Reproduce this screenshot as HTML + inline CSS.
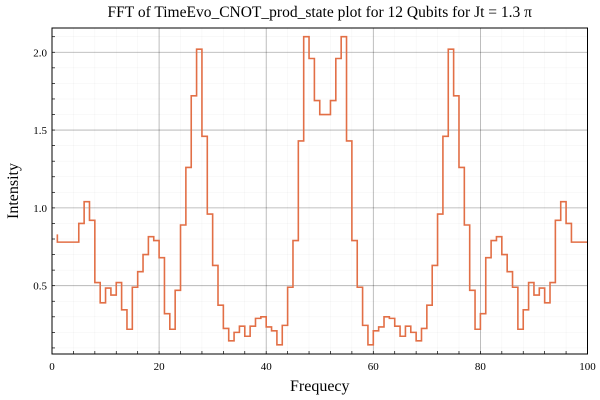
<!DOCTYPE html>
<html><head><meta charset="utf-8"><style>
body{margin:0;background:#fff;}
svg{display:block;font-family:"Liberation Serif",serif;}
</style></head><body>
<svg id="chart" width="600" height="400" xmlns="http://www.w3.org/2000/svg"></svg>
<script>
const xValues = [];
for (let i = 1; i <= 100; i++) xValues.push(i);
const intensity = [0.83,0.78,0.78,0.78,0.78,0.90,1.04,0.92,0.52,0.39,0.485,0.44,0.52,0.345,0.22,0.49,0.59,0.70,0.815,0.79,0.68,0.32,0.22,0.47,0.89,1.26,1.72,2.02,1.46,0.96,0.63,0.375,0.225,0.146,0.2,0.24,0.175,0.24,0.29,0.30,0.235,0.21,0.12,0.245,0.49,0.79,1.43,2.10,1.96,1.69,1.60,1.60,1.69,1.96,2.10,1.43,0.79,0.49,0.245,0.12,0.21,0.235,0.30,0.29,0.24,0.175,0.24,0.2,0.146,0.225,0.375,0.63,0.96,1.46,2.02,1.72,1.26,0.89,0.47,0.22,0.32,0.68,0.79,0.815,0.70,0.59,0.49,0.22,0.345,0.52,0.44,0.485,0.39,0.52,0.92,1.04,0.90,0.78,0.78,0.78];
const xTicks = [0,20,40,60,80,100];
const yTicks = [0.5,1.0,1.5,2.0];
const yTickLabels = ["0.5","1.0","1.5","2.0"];

const L=52,R=587.5,T=28,B=354;
const xMin=0,xMax=100,yMin=0.061,yMax=2.156;
const sx=v=>L+(v-xMin)/(xMax-xMin)*(R-L);
const sy=v=>B-(v-yMin)/(yMax-yMin)*(B-T);
const svg=document.getElementById('chart');
const NS='http://www.w3.org/2000/svg';
function mk(tag,attrs){const e=document.createElementNS(NS,tag);for(const k in attrs)e.setAttribute(k,attrs[k]);svg.appendChild(e);return e;}

// minor grid
for(let v=0;v<=100;v+=4){
  const e=mk('line',{x1:sx(v),x2:sx(v),y1:T,y2:B,stroke:'#000','stroke-opacity':0.05,'stroke-width':0.5});
  
  
}
for(let v=0.1;v<=2.15;v+=0.1){
  const e=mk('line',{x1:L,x2:R,y1:sy(v),y2:sy(v),stroke:'#000','stroke-opacity':0.05,'stroke-width':0.5});
  
  
}
// major grid + ticks
xTicks.forEach(v=>{
  const g=mk('line',{x1:sx(v),x2:sx(v),y1:T,y2:B,stroke:'#000','stroke-opacity':0.3,'stroke-width':0.8});
  
  
  const t=mk('text',{x:sx(v),y:B+16,'text-anchor':'middle','font-size':11,fill:'#000'});
  t.textContent=v;
  
  
});
for(let v=0;v<=100;v+=4){
  const e=mk('line',{x1:sx(v),x2:sx(v),y1:B,y2:B-3,stroke:'#000','stroke-width':0.7});
  
  
}
yTicks.forEach((v,i)=>{
  const g=mk('line',{x1:L,x2:R,y1:sy(v),y2:sy(v),stroke:'#000','stroke-opacity':0.3,'stroke-width':0.8});
  
  
  const t=mk('text',{x:L-5,y:sy(v)+4,'text-anchor':'end','font-size':11,fill:'#000'});
  t.textContent=yTickLabels[i];
  
  
});
for(let v=0.1;v<=2.15;v+=0.1){
  const e=mk('line',{x1:L,x2:L+3,y1:sy(v),y2:sy(v),stroke:'#000','stroke-width':0.7});
  
  
}
// series (steppre)
let d='M'+sx(xValues[0])+','+sy(intensity[0]);
for(let i=1;i<xValues.length;i++){
  d+=' V'+sy(intensity[i])+' H'+sx(xValues[i]);
}
const p=mk('path',{d:d,fill:'none',stroke:'#e26f46','stroke-width':1.6});


// frame
const f=mk('rect',{x:L,y:T,width:R-L,height:B-T,fill:'none',stroke:'#000','stroke-width':1});


// titles
const ti=mk('text',{x:(L+R)/2,y:17,'text-anchor':'middle','font-size':15.5,fill:'#000'});
ti.textContent='FFT of TimeEvo_CNOT_prod_state plot for 12 Qubits for Jt = 1.3 \u03c0';


const xl=mk('text',{x:(L+R)/2,y:391,'text-anchor':'middle','font-size':16,fill:'#000'});
xl.textContent='Frequecy';


const yl=mk('text',{x:0,y:0,'text-anchor':'middle','font-size':16,fill:'#000',transform:'translate(18,'+((T+B)/2)+') rotate(-90)'});
yl.textContent='Intensity';


</script>
</body></html>
